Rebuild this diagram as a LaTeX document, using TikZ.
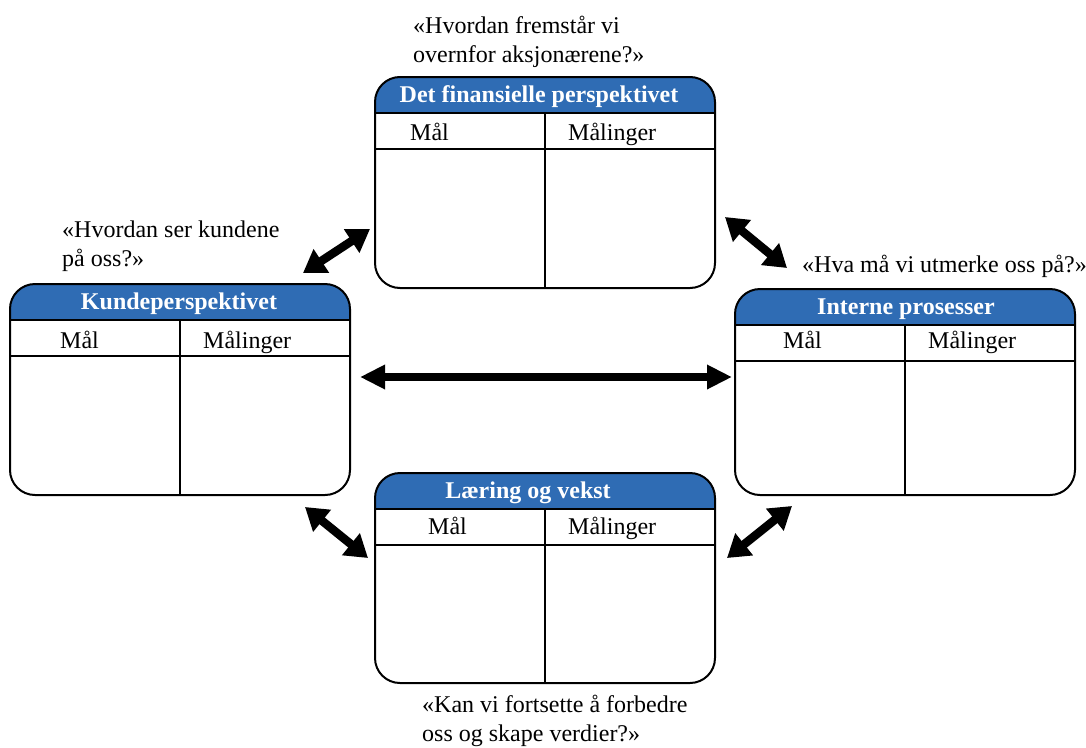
\documentclass[tikz,border=0pt]{standalone}
\usepackage{fontspec}
\setmainfont{Liberation Serif}
\usetikzlibrary{arrows.meta,calc}
\definecolor{hdrblue}{RGB}{47,108,180}
\tikzset{
  x=1pt, y=-1pt,
  boxline/.style={line width=2pt, rounded corners=25pt},
  rowline/.style={line width=2pt},
  hdrtext/.style={text=white, font=\bfseries\fontsize{24}{28}\selectfont, inner sep=0pt, anchor=base},
  coltext/.style={font=\fontsize{24}{29}\selectfont, inner sep=0pt, anchor=base west},
  qtext/.style={font=\fontsize{24}{29}\selectfont, inner sep=0pt, align=left, anchor=base west},
  dbl/.style={line width=8.5pt, {Triangle[length=22pt,width=27pt]}-{Triangle[length=22pt,width=27pt]}},
}
% #1 name, #2 left, #3 top, #4 bottom, #5 title, #6 title centre x, #7 Maal x offset, #8 column text baseline
\newcommand\bscbox[8]{%
  \node[minimum width=340pt, minimum height={#4-#3}, inner sep=0pt, outer sep=0pt]
    (#1) at ({#2+170},{(#3+#4)/2}) {};
  \begin{scope}
    \clip[rounded corners=25pt] (#1.south west) rectangle (#1.north east);
    \fill[hdrblue] (#1.north west) rectangle ($(#1.north east)+(0,36)$);
  \end{scope}
  \draw[boxline] (#1.south west) rectangle (#1.north east);
  \draw[rowline] ($(#1.north west)+(0,36)$) -- ($(#1.north east)+(0,36)$);
  \draw[rowline] ($(#1.north west)+(0,72)$) -- ($(#1.north east)+(0,72)$);
  \draw[rowline] ($(#1.north)+(0,36)$) -- (#1.south);
  \node[hdrtext] (#1-t) at (#6,{#3+25}) {#5};
  \node[coltext] (#1-m) at ({#2+#7},#8) {Mål};
  \node[coltext] (#1-ml) at ({#2+193},#8) {Målinger};
}
\begin{document}
\begin{tikzpicture}
\useasboundingbox (0,0) rectangle (1086,747);
\fill[white] (0,0) rectangle (1086,747);

\bscbox{fin}{375}{77}{288}{Det finansielle perspektivet}{539}{35}{140}
\bscbox{kunde}{10}{284}{495}{Kundeperspektivet}{179}{50}{348}
\bscbox{intern}{735}{289}{495}{Interne prosesser}{906}{48}{348}
\bscbox{laer}{375}{473}{683}{Læring og vekst}{528}{53}{534}

% base anchor of a two-line node is on its last line
\node[qtext] (q1) at (413,62) {«Hvordan fremstår vi\\overnfor aksjonærene?»};
\node[qtext] (q2) at (62,266) {«Hvordan ser kundene\\på oss?»};
\node[qtext] (q3) at (802,272) {«Hva må vi utmerke oss på?»};
\node[qtext] (q4) at (422,741) {«Kan vi fortsette å forbedre\\oss og skape verdier?»};

\coordinate (a1s) at (303,273); \coordinate (a1e) at (370,229);
\coordinate (a2s) at (725,217); \coordinate (a2e) at (787,268);
\coordinate (a3s) at (360,377); \coordinate (a3e) at (732,377);
\coordinate (a4s) at (305,507); \coordinate (a4e) at (368,558);
\coordinate (a5s) at (727,558); \coordinate (a5e) at (792,506);
\draw[dbl] (a1s) -- (a1e);
\draw[dbl] (a2s) -- (a2e);
\draw[dbl, line width=8pt, {Triangle[length=25pt,width=23pt]}-{Triangle[length=25pt,width=23pt]}] (a3s) -- (a3e);
\draw[dbl] (a4s) -- (a4e);
\draw[dbl] (a5s) -- (a5e);
\end{tikzpicture}
\end{document}
